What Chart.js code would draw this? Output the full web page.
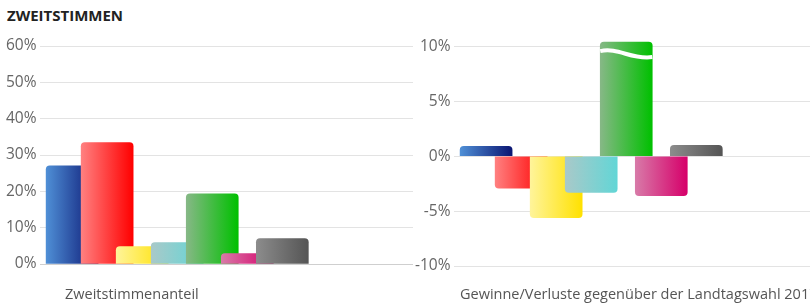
<!DOCTYPE html>
<html>
<head>
<meta charset="utf-8">
<script src="https://cdn.jsdelivr.net/npm/chart.js@4.4.1/dist/chart.umd.min.js"></script>
<style>
    body { margin: 0; background: #fff; font-family: "Open Sans", sans-serif; }
    #page { position: relative; width: 810px; height: 308px; overflow: hidden; }
    h1 { position: absolute; left: 7px; top: 5px; margin: 0; font-size: 15px; font-weight: 700; color: #222; }
    .box { position: absolute; top: 0; width: 415px; height: 308px; }
    .xlabel { position: absolute; top: 284px; font-size: 14.5px; color: #555; white-space: nowrap; }
</style>
</head>
<body>
<div id="page">
    <h1>ZWEITSTIMMEN</h1>
    <div class="box" style="left:0"><canvas id="shareChart"></canvas></div>
    <div class="box" style="left:412px"><canvas id="changeChart"></canvas></div>
    <div class="xlabel" style="left:65px">Zweitstimmenanteil</div>
    <div class="xlabel" style="left:460px">Gewinne/Verluste gegenüber der Landtagswahl 2017</div>
</div>
<script>
// Werte
const parties = ['CDU', 'SPD', 'FDP', 'AfD', 'GRÜNE', 'DIE LINKE', 'Sonstige'];
const shares = [27.0, 33.4, 4.8, 5.9, 19.3, 2.9, 7.0];
const changes = [0.9, -2.9, -5.6, -3.3, 10.4, -3.6, 1.0];
const shareTicks = [0, 10, 20, 30, 40, 50, 60];
const changeTicks = [-10, -5, 0, 5, 10];

// left (light) and right (dark) end of each bar's gradient
const lightColors = ['#4f8fd6', '#ff8080', '#fff49a', '#a9c9c9', '#86b886', '#d87aa8', '#8c8c8c'];
const darkColors = ['#0a1572', '#ff0000', '#ffe100', '#62d6d6', '#00c000', '#d6006a', '#555555'];

const BAR_WIDTH = 52;

function barGradient(context) {
    const chart = context.chart;
    const i = context.dataIndex;
    if (!chart.chartArea || i === undefined) return darkColors[i] || '#999';
    const x = chart.scales.x.getPixelForValue(i);
    const g = chart.ctx.createLinearGradient(x - BAR_WIDTH / 2, 0, x + BAR_WIDTH / 2, 0);
    g.addColorStop(0, lightColors[i]);
    g.addColorStop(1, darkColors[i]);
    return g;
}

// white wave on the green bar (axis break)
const breakPlugin = {
    id: 'breakWave',
    afterDatasetsDraw(chart) {
        if (chart.canvas.id !== 'changeChart') return;
        const bar = chart.getDatasetMeta(0).data[4];
        if (!bar) return;
        const { x, y, width } = bar.getProps(['x', 'y', 'width'], true);
        const left = x - width / 2, right = x + width / 2;
        const c = chart.ctx;
        c.save();
        c.strokeStyle = '#fff';
        c.lineWidth = 4;
        c.beginPath();
        c.moveTo(left, y + 9);
        c.bezierCurveTo(left + width * 0.35, y + 5, left + width * 0.6, y + 18, right, y + 15);
        c.stroke();
        c.restore();
    }
};

function makeChart(id, values, ticks, yMin, yMax, padding) {
    const ctx = document.getElementById(id);
    return new Chart(ctx, {
        type: 'bar',
        data: {
            datasets: [{
                data: values.map((v, i) => ({ x: i, y: v })),
                backgroundColor: barGradient,
                barThickness: BAR_WIDTH,
                borderRadius: 4,
                borderSkipped: 'start'
            }]
        },
        options: {
            responsive: true,
            maintainAspectRatio: false,
            animation: false,
            layout: { padding: padding },
            plugins: {
                legend: { display: false },
                tooltip: {
                    callbacks: {
                        title: items => parties[items[0].dataIndex],
                        label: item => item.parsed.y.toLocaleString('de-DE') + ' %'
                    }
                }
            },
            scales: {
                x: {
                    type: 'linear',
                    display: false,
                    offset: false,
                    min: -0.93,
                    max: 9.73
                },
                y: {
                    min: yMin,
                    max: yMax,
                    afterBuildTicks: scale => { scale.ticks = ticks.map(v => ({ value: v })); },
                    border: { display: false },
                    grid: {
                        color: c => c.tick && c.tick.value === 0 && yMin === 0 ? '#cfcfcf' : '#e3e3e3',
                        drawTicks: false
                    },
                    ticks: {
                        padding: 3,
                        color: '#666',
                        font: { family: 'Open Sans', size: 15.5 },
                        callback: v => v + '%'
                    }
                }
            }
        },
        plugins: [breakPlugin]
    });
}

document.addEventListener('DOMContentLoaded', function () {
    makeChart('shareChart', shares, shareTicks, 0, 60, { top: 46, bottom: 44, left: 3, right: 2 });
    makeChart('changeChart', changes, changeTicks, -10, 10.5, { top: 41, bottom: 42, left: 0, right: 0 });
});
</script>
</body>
</html>
